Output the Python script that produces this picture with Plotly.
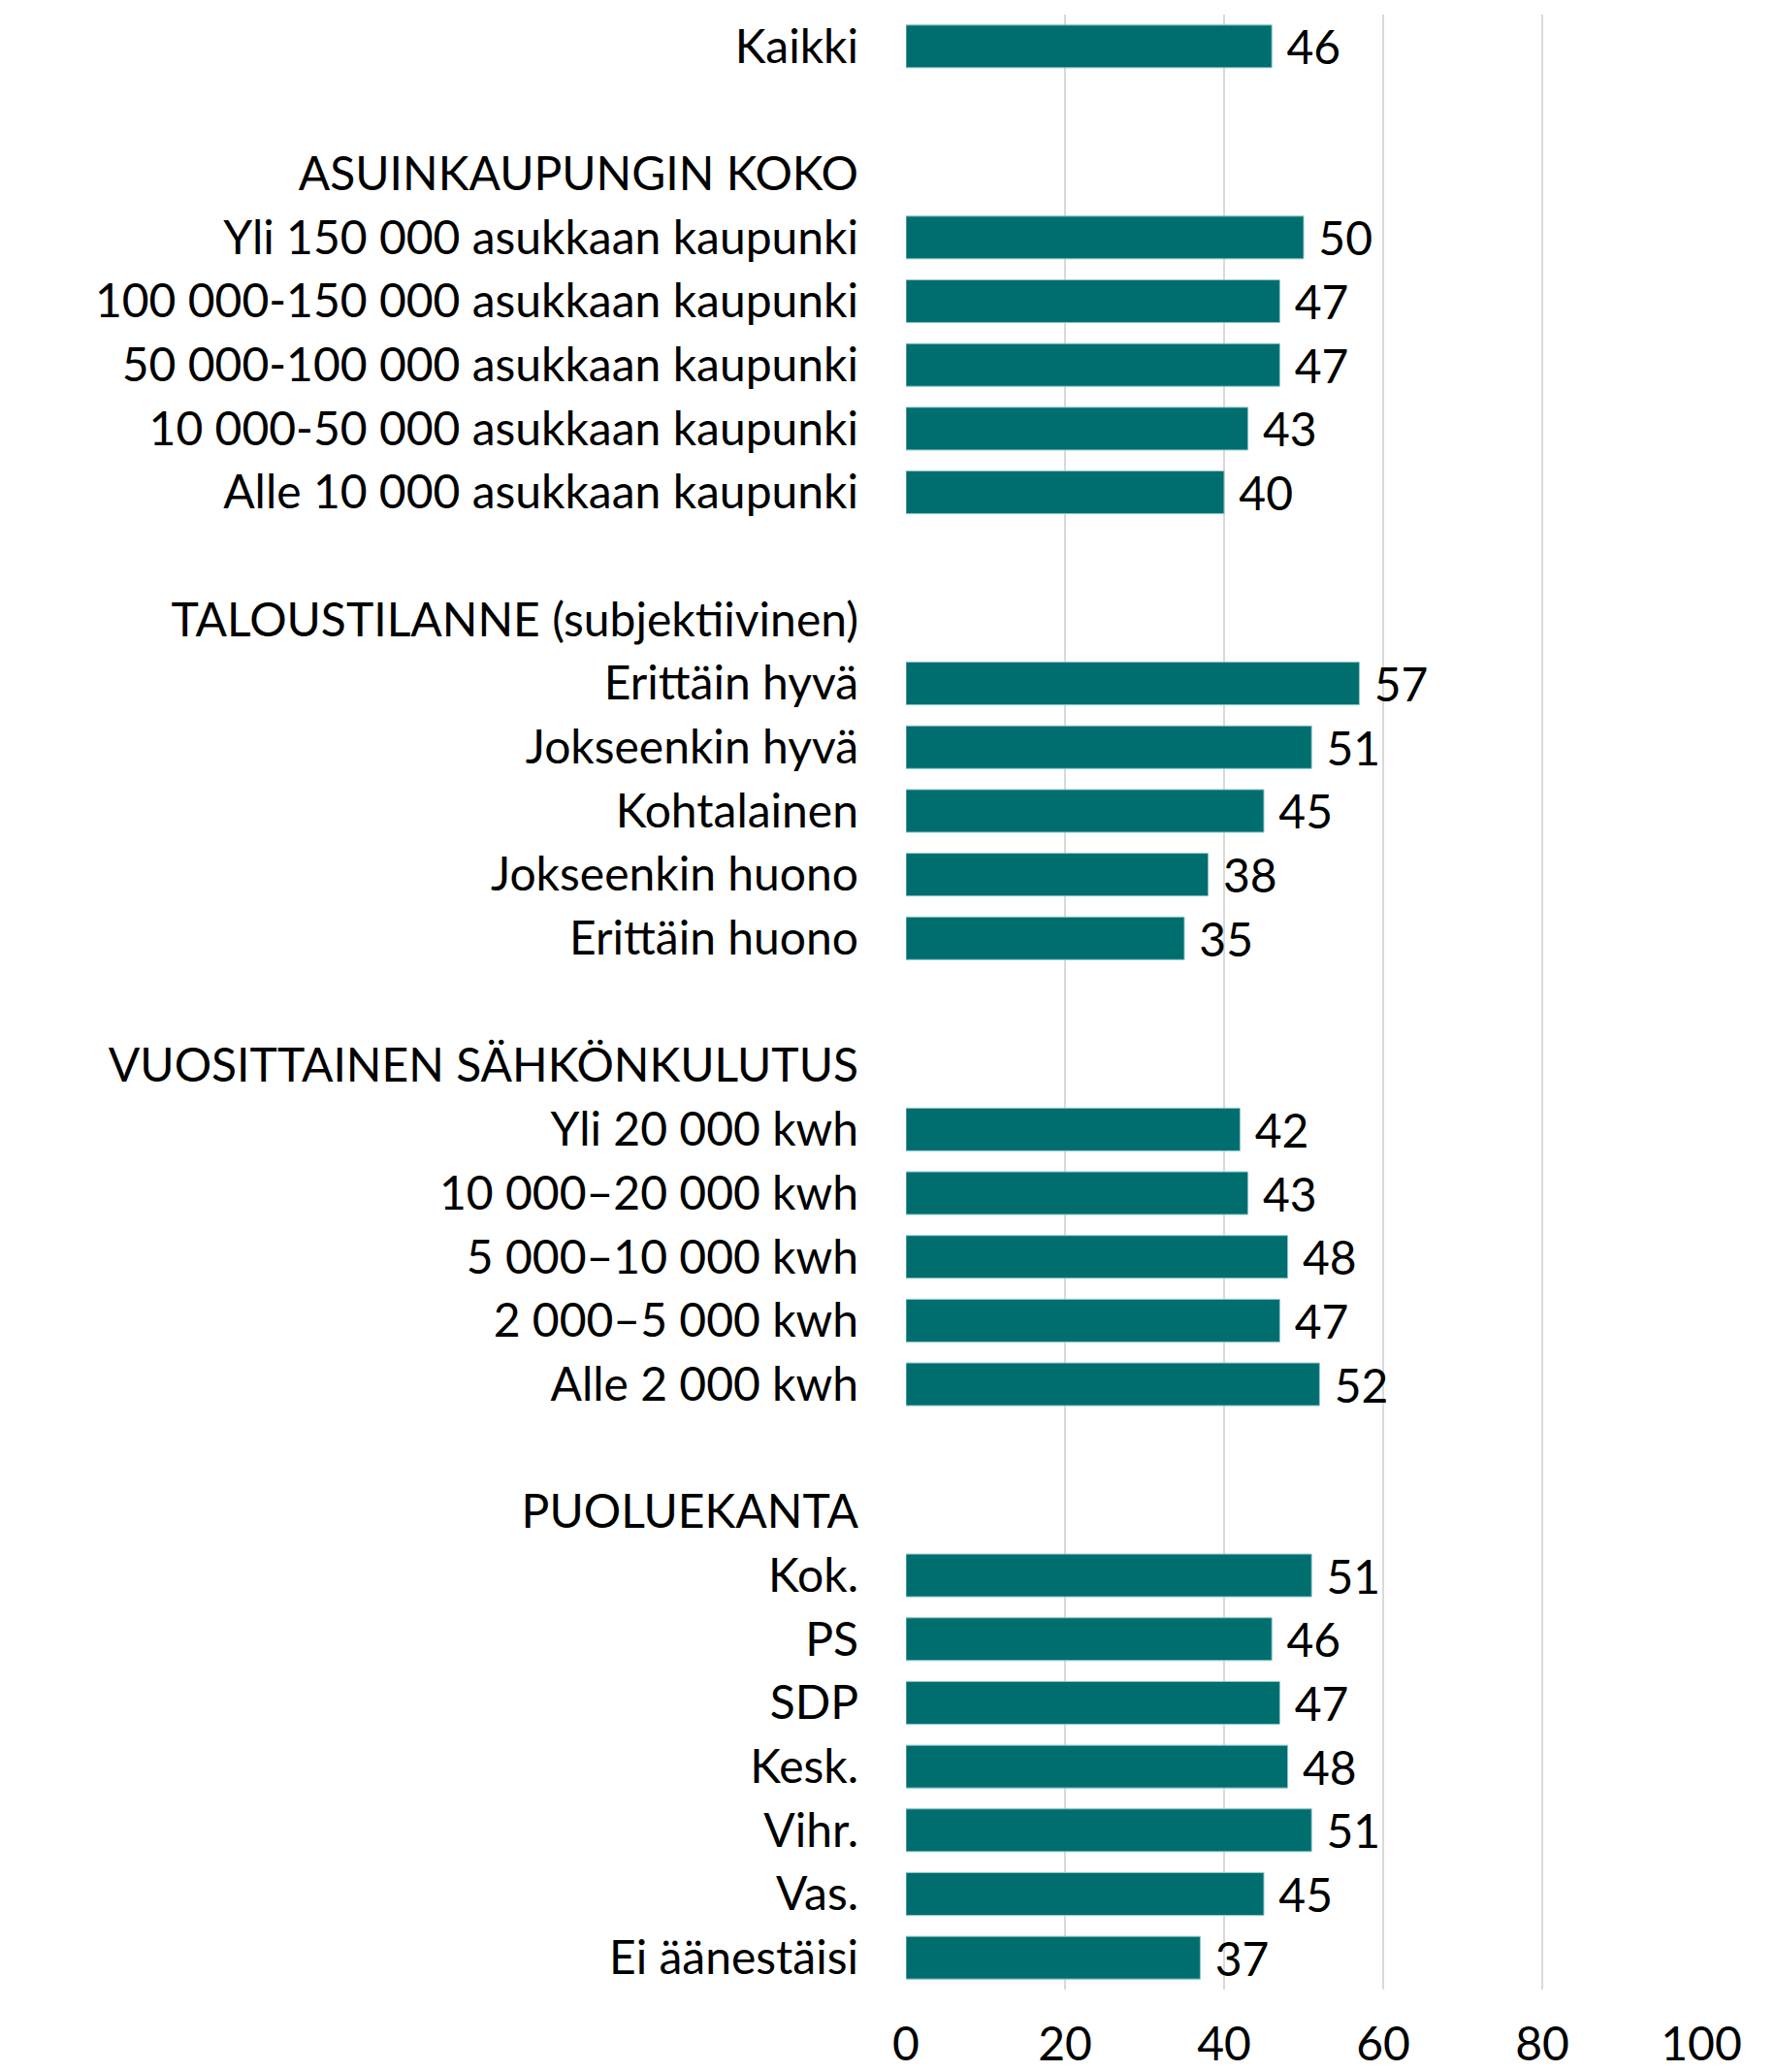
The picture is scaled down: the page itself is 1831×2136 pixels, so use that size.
import plotly.graph_objects as go

categories = [
    "Kaikki",
    " ",
    "ASUINKAUPUNGIN KOKO",
    "Yli 150 000 asukkaan kaupunki",
    "100 000-150 000 asukkaan kaupunki",
    "50 000-100 000 asukkaan kaupunki",
    "10 000-50 000 asukkaan kaupunki",
    "Alle 10 000 asukkaan kaupunki",
    "  ",
    "TALOUSTILANNE (subjektiivinen)",
    "Erittäin hyvä",
    "Jokseenkin hyvä",
    "Kohtalainen",
    "Jokseenkin huono",
    "Erittäin huono",
    "   ",
    "VUOSITTAINEN SÄHKÖNKULUTUS",
    "Yli 20 000 kwh",
    "10 000–20 000 kwh",
    "5 000–10 000 kwh",
    "2 000–5 000 kwh",
    "Alle 2 000 kwh",
    "    ",
    "PUOLUEKANTA",
    "Kok.",
    "PS",
    "SDP",
    "Kesk.",
    "Vihr.",
    "Vas.",
    "Ei äänestäisi",
]

values = [
    46,
    None,
    None, 50, 47, 47, 43, 40,
    None,
    None, 57, 51, 45, 38, 35,
    None,
    None, 42, 43, 48, 47, 52,
    None,
    None, 51, 46, 47, 48, 51, 45, 37,
]

x_ticks = [0, 20, 40, 60, 80, 100]

FONT = "Lato"
FS = 48
BAR = "#006D6F"

texts = ["" if v is None else " " + str(v) for v in values]

fig = go.Figure(
    go.Bar(
        x=values,
        y=categories,
        orientation="h",
        marker=dict(color=BAR, line=dict(color="#8fc7c8", width=1)),
        text=texts,
        textposition="outside",
        constraintext="none",
        textfont=dict(family=FONT, size=FS, color="#000000"),
        cliponaxis=False,
        width=0.67,
    )
)

fig.update_layout(
    width=1823,
    height=2128,
    margin=dict(l=926, r=77, t=7, b=85),
    paper_bgcolor="white",
    plot_bgcolor="white",
    showlegend=False,
    font=dict(family=FONT, size=FS, color="#000000"),
    xaxis=dict(
        range=[0, 100],
        tickvals=x_ticks,
        ticktext=[str(t) for t in x_ticks],
        showgrid=True,
        gridcolor="#d9d9d9",
        gridwidth=2,
        zeroline=False,
        showline=False,
        ticks="",
        ticklabelstandoff=24,
        automargin=False,
        tickfont=dict(family=FONT, size=FS, color="#000000"),
    ),
    yaxis=dict(
        type="category",
        categoryorder="array",
        categoryarray=categories,
        autorange="reversed",
        showgrid=False,
        zeroline=False,
        showline=False,
        ticks="",
        ticklabelstandoff=48,
        automargin=False,
        tickfont=dict(family=FONT, size=FS, color="#000000"),
    ),
)

fig.write_html("out.html")
